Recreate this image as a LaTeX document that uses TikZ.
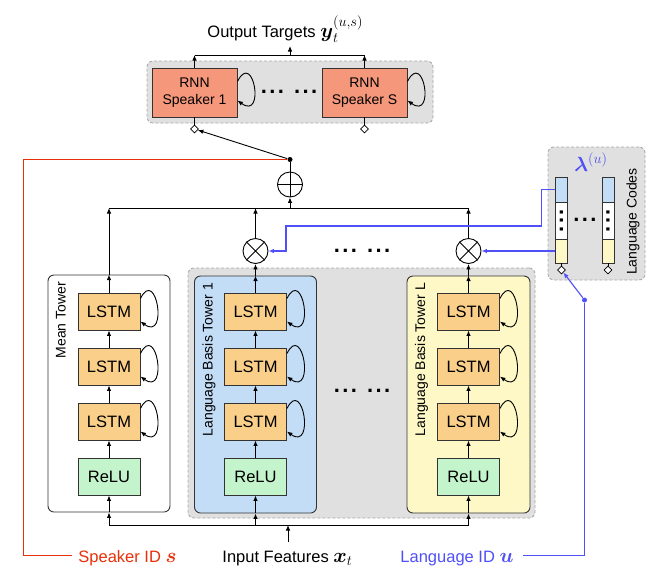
\RequirePackage{fix-cm}
\documentclass[tikz,border=0pt]{standalone}
\usepackage{amsmath}
\usepackage{fontspec}
\setmainfont{Liberation Sans}
\usetikzlibrary{arrows.meta,calc,shapes.geometric}
\definecolor{rnnc}{HTML}{F5977B}
\definecolor{lstmc}{HTML}{F9CF8A}
\definecolor{reluc}{HTML}{C4F4CC}
\definecolor{bluec}{HTML}{C3DDF7}
\definecolor{yelc}{HTML}{FDF8C5}
\definecolor{grayc}{HTML}{E0E0E0}
\definecolor{dashc}{HTML}{AAAAAA}
\definecolor{spkred}{HTML}{E8300A}
\definecolor{bluel}{HTML}{5050F8}
\definecolor{edgec}{HTML}{333333}
\newcommand\lgf{\fontsize{16.5pt}{19pt}\selectfont}
\newcommand\smf{\fontsize{14pt}{17.5pt}\selectfont}
\newcommand\mthf{\fontsize{20.5pt}{24pt}\selectfont}
\newcommand\dotf{\fontsize{22pt}{24pt}\selectfont}
\newcommand\threedots{\textbf{.\kern2.4pt.\kern2.4pt.}}
\newcommand\selfloop[3]{\draw[arr] ([yshift=#2]#1.east) .. controls +(16pt,32pt) and +(28pt,-20pt) .. ([yshift=-#3]#1.east);}
\begin{document}
\begin{tikzpicture}[x=1pt,y=-1pt,
  line width=0.9pt,
  arr/.style={-{Latex[length=5.5pt,width=4.5pt]}},
  lstmbox/.style={draw=edgec, fill=lstmc, minimum width=62pt, minimum height=37pt, inner sep=0pt, font=\lgf},
  relubox/.style={lstmbox, fill=reluc},
  rnnbox/.style={draw=edgec, fill=rnnc, minimum width=85pt, minimum height=49pt, inner sep=0pt, font=\smf, align=center},
  towerbox/.style={draw=edgec, rounded corners=6pt, minimum width=122pt, minimum height=237pt, inner sep=0pt},
  grayarea/.style={draw=dashc, dash pattern=on 3pt off 2pt, fill=grayc, rounded corners=6pt, inner sep=0pt},
  swnode/.style={diamond, aspect=1, draw, fill=white, minimum width=8pt, minimum height=8pt, inner sep=0pt, line width=0.7pt},
  opnode/.style={circle, draw, fill=white, minimum size=25pt, inner sep=0pt},
  jdot/.style={circle, fill, inner sep=0pt, minimum size=5pt},
  cellnode/.style={draw=edgec, minimum width=12pt, inner sep=0pt},
  lbl/.style={inner sep=0pt, font=\lgf},
  towerlbl/.style={rotate=90, anchor=north east, inner sep=0pt, font=\smf},
  bline/.style={color=bluel, line width=1.1pt},
  redwire/.style={draw=spkred, line width=1.6pt},
  dotsnode/.style={inner sep=0pt, font=\dotf}
]
\fill[white] (0,0) rectangle (660,579);
\useasboundingbox (0,0) rectangle (660,579);

% gray areas
\node[grayarea, minimum width=286pt, minimum height=62pt] (topg) at (290,92) {};
\node[grayarea, minimum width=347pt, minimum height=250pt] (basisg) at (361.5,393) {};
\node[grayarea, minimum width=97pt, minimum height=133pt] (codeg) at (596.5,213.5) {};

% towers
\node[towerbox, fill=white] (mt) at (109,393.5) {};
\node[towerbox, fill=bluec] (t1) at (255.5,394.5) {};
\node[towerbox, fill=yelc, minimum width=123pt] (tl) at (468.5,394.5) {};
\node[towerlbl] (mtl) at ($(mt.north west)+(8pt,-7pt)$) {Mean Tower};
\node[towerlbl] (t1l) at ($(t1.north west)+(8pt,-7pt)$) {Language Basis Tower 1};
\node[towerlbl] (tll) at ($(tl.north west)+(8pt,-7pt)$) {Language Basis Tower L};

% bottom input line coordinates
\coordinate (bm) at (109,525);
\coordinate (ba) at (255.5,525);
\coordinate (bl) at (468.5,525);
\coordinate (bc) at (288,525);
\coordinate (bi) at (288,542);

\foreach \tw/\X/\T in {m/109/mt, a/255.5/t1, l/468.5/tl} {
  \node[lstmbox] (\tw1) at (\X,311.5) {LSTM};
  \node[lstmbox] (\tw2) at (\X,366.5) {LSTM};
  \node[lstmbox] (\tw3) at (\X,421.5) {LSTM};
  \node[relubox] (\tw4) at (\X,476.5) {ReLU};
  \draw[arr] (\tw4.north) -- (\tw3.south);
  \draw[arr] (\tw3.north) -- (\tw2.south);
  \draw[arr] (\tw2.north) -- (\tw1.south);
  \draw[arr] (\tw1.north) -- (\T.north);
  \draw[arr] (\T.south) -- (\tw4.south);
  \draw[arr] (b\tw) -- (\T.south);
  \selfloop{\tw1}{13pt}{10pt}
  \selfloop{\tw2}{13pt}{10pt}
  \selfloop{\tw3}{13pt}{10pt}
}
\draw (bm) -- (bl);
\draw[arr] (bi) -- (bc);

% products and sum
\node[opnode] (x1) at (255.5,251) {};
\node[opnode] (xl) at (468.5,251) {};
\draw (x1.north west) -- (x1.south east) (x1.north east) -- (x1.south west);
\draw (xl.north west) -- (xl.south east) (xl.north east) -- (xl.south west);
\draw[arr] (t1.north) -- (x1.south);
\draw[arr] (tl.north) -- (xl.south);

\coordinate (s0) at (109,208);
\coordinate (s1) at (255.5,208);
\coordinate (sl) at (468.5,208);
\coordinate (sc) at (290,208);
\draw (s0) -- (sl);
\draw[arr] (mt.north) -- (s0);
\draw[arr] (x1.north) -- (s1);
\draw[arr] (xl.north) -- (sl);

\node[opnode] (op) at (290,184.5) {};
\draw (op.west) -- (op.east) (op.north) -- (op.south);
\draw[arr] (sc) -- (op.south);
\node[jdot] (j) at (290,159.5) {};
\draw (op.north) -- (j);

% red speaker wire
\coordinate (rc1) at (23.5,159.5);
\coordinate (rc2) at (72,555.5);
\draw[redwire] (j.west) -- (rc1) |- (rc2);

% RNN speakers
\node[rnnbox] (r1) at (194.5,92.5) {RNN\\Speaker 1};
\node[rnnbox] (rs) at (364.5,92.5) {RNN\\Speaker S};
\selfloop{r1}{11pt}{8pt}
\selfloop{rs}{11pt}{8pt}
\node[dotsnode] (dtop) at (289,92) {\threedots\hspace{10pt}\threedots};
\node[swnode] (d1) at (194.5,129) {};
\node[swnode] (ds) at (364.5,129) {};
\draw[line width=0.7pt] (r1.south) -- (d1.north);
\draw[line width=0.7pt] (rs.south) -- (ds.north);
\draw[arr] (j) -- (d1);

\coordinate (o1) at (194.5,55);
\coordinate (os) at (364.5,55);
\coordinate (oc) at (290,55);
\coordinate (ot) at (290,46);
\draw[arr] (r1.north) -- (o1);
\draw[arr] (rs.north) -- (os);
\draw (o1) -- (os);
\draw[arr] (oc) -- (ot);
\node[lbl, anchor=base west] (outtxt) at (207,37) {Output Targets {\mthf$\boldsymbol{y}_t^{(u,s)}$}};

% middle dots
\node[dotsnode] (dmid) at (362,251) {\threedots\hspace{10pt}\threedots};
\node[dotsnode] (dlow) at (362,391) {\threedots\hspace{10pt}\threedots};

% language codes
\foreach \c/\X in {1/561.5, 2/608} {
  \node[cellnode, fill=bluec, minimum height=25pt] (c\c-a) at (\X,189.5) {};
  \node[cellnode, fill=white, minimum height=37pt] (c\c-b) at (\X,220.5) {};
  \node[cellnode, fill=yelc, minimum height=24pt] (c\c-c) at (\X,251) {};
  \node[dotsnode, rotate=90] (vd\c) at (c\c-b) {\threedots};
  \node[swnode] (dl\c) at (\X,270) {};
  \draw[line width=0.7pt] (c\c-c.south) -- (dl\c.north);
}
\node[dotsnode] (hd) at (585,220) {\threedots};
\node[inner sep=0pt, text=bluel, font=\mthf] (lam) at (591,162) {$\boldsymbol{\lambda}^{(u)}$};
\node[rotate=90, inner sep=0pt, font=\smf] (lcl) at (633,221.5) {Language Codes};

\coordinate (bk1) at (286,226);
\draw[bline, arr] (c1-a.west) -- ++(-14pt,0pt) |- (bk1) |- (x1.east);
\draw[bline, arr] (c1-c.west) -- (xl.east);

% bottom labels
\node[lbl, anchor=base west, text=spkred] (spk) at (78,562) {Speaker ID {\mthf$\boldsymbol{s}$}};
\node[lbl, anchor=base west] (inp) at (222,562) {Input Features {\mthf$\boldsymbol{x}_t$}};
\node[lbl, anchor=base west, text=bluel] (lang) at (400,562) {Language ID {\mthf$\boldsymbol{u}$}};

\node[jdot, fill=bluel] (jl) at (584.5,300) {};
\coordinate (bc2) at (523,555.5);
\draw[bline, arr] (jl) -- (dl1);
\draw[bline] (jl) |- (bc2);
\end{tikzpicture}
\end{document}
